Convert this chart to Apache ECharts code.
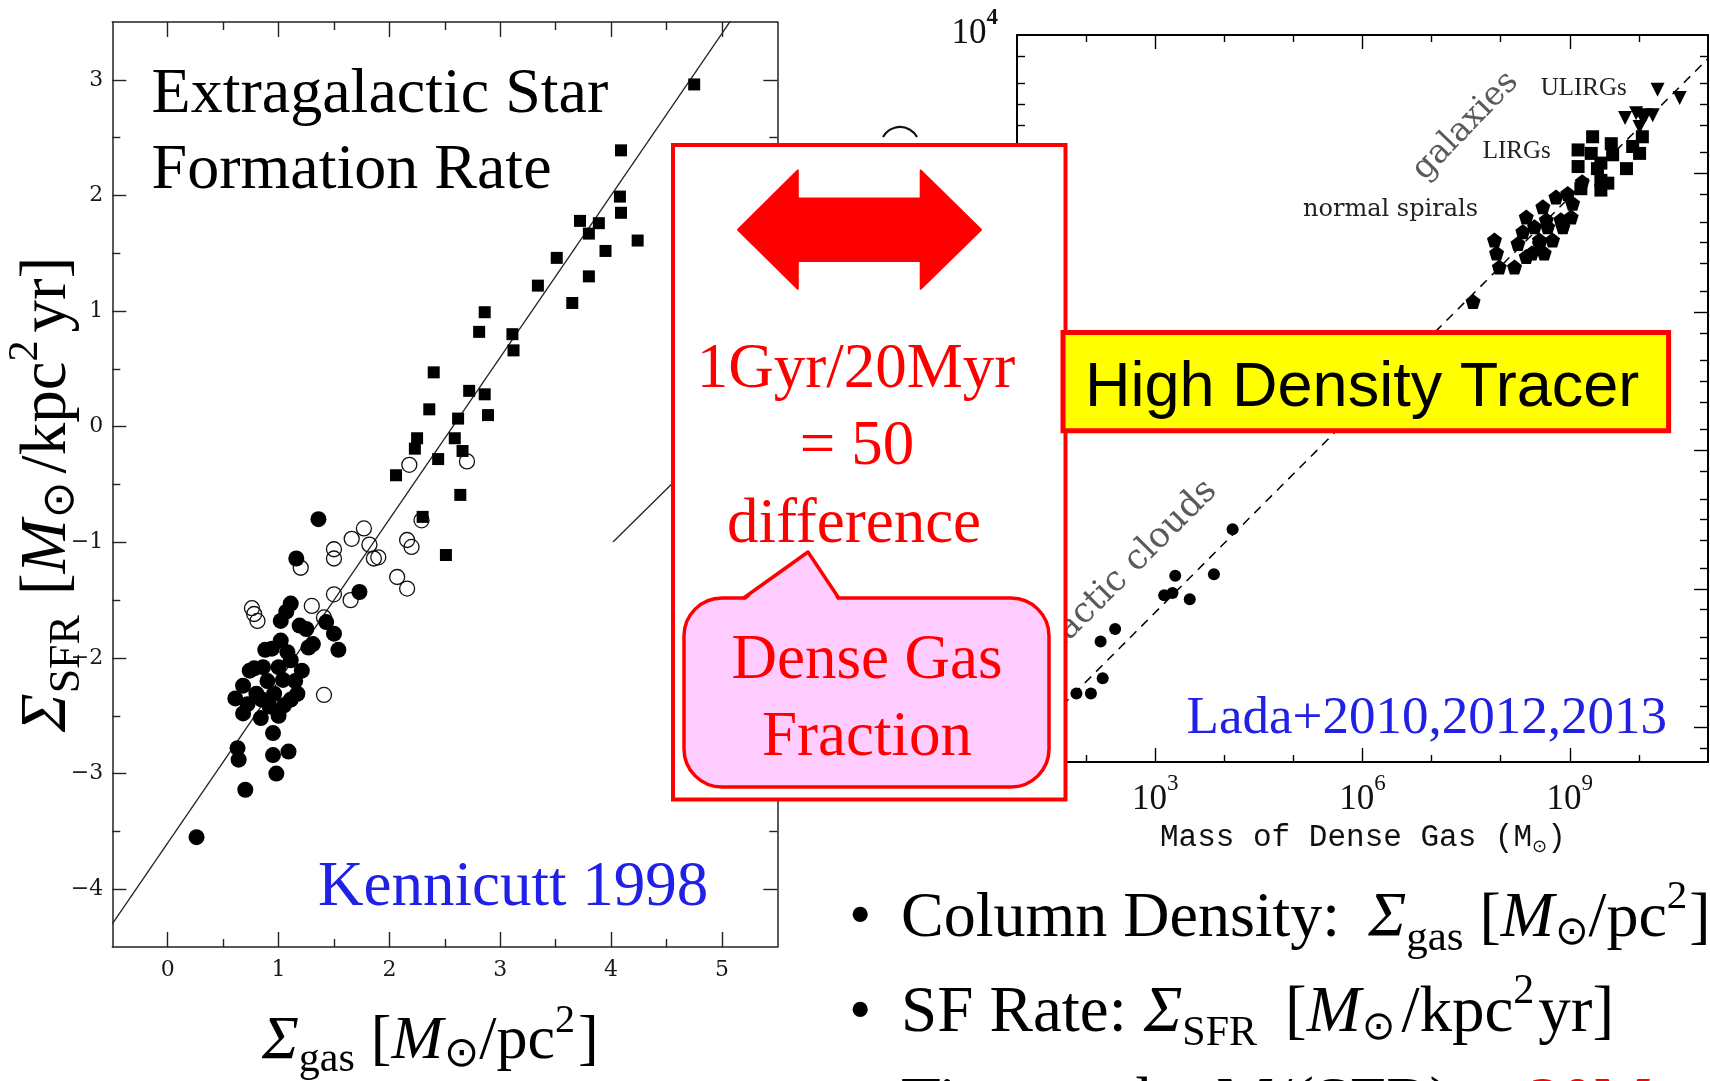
<!DOCTYPE html>
<html><head><meta charset="utf-8">
<script src="https://cdn.jsdelivr.net/npm/echarts@6/dist/echarts.min.js"></script>
<style>html,body{margin:0;padding:0;background:#fff}#c{width:1710px;height:1081px}</style>
</head><body><div id="c"></div>
<script>
// ---------- Left panel: Kennicutt 1998 (log Σgas vs log ΣSFR) ----------
const ksSpiralGas = [0.26,0.70,0.98,0.95,1.09,0.63,0.64,0.95,0.61,0.68,0.74,0.68,0.84,0.80,0.92,0.96,1.04,0.94,1.11,1.17,1.21,1.11,1.02,1.02,1.11,1.19,1.31,1.27,1.43,1.50,1.54,1.73,1.36,1.16,0.86,0.78,0.88,1.07,1.25,1.00,0.85,1.05,1.15,0.90,1.00,1.08,0.72];
const ksSpiralSFR = [-3.55,-3.14,-3.00,-2.84,-2.81,-2.78,-2.88,-2.65,-2.35,-2.24,-2.11,-2.48,-2.52,-2.31,-2.42,-2.31,-2.19,-1.92,-2.36,-2.31,-2.11,-2.02,-1.85,-1.68,-1.53,-1.72,-1.88,-1.91,-1.69,-1.79,-1.93,-1.43,-0.80,-1.14,-2.08,-2.09,-1.93,-1.60,-1.75,-2.08,-2.36,-2.41,-2.20,-2.20,-2.50,-1.95,-2.40];
const ksCenterGas = [0.76,0.81,1.20,1.30,1.41,1.41,1.50,1.50,1.66,1.77,1.82,1.86,1.90,1.50,1.65,2.07,2.16,2.16,2.20,2.18,2.70,2.29,0.78];
const ksCenterSFR = [-1.57,-1.68,-1.22,-1.55,-1.65,-2.32,-1.06,-1.14,-0.97,-0.88,-1.02,-1.14,-1.13,-1.45,-1.50,-1.30,-1.40,-0.98,-1.04,-0.33,-0.30,-0.81,-1.62];
const ksBurstGas = [4.75,4.09,4.08,4.09,4.24,3.72,3.89,3.80,3.95,3.51,3.80,3.34,3.65,2.86,2.81,3.11,3.12,2.40,2.72,2.86,2.89,2.36,2.62,2.25,2.59,2.23,2.44,2.66,2.06,2.64,2.30,2.51];
const ksBurstSFR = [2.96,2.39,1.99,1.85,1.61,1.78,1.76,1.67,1.52,1.46,1.30,1.22,1.07,0.99,0.82,0.80,0.66,0.47,0.31,0.28,0.10,0.15,0.07,-0.10,-0.10,-0.19,-0.28,-0.21,-0.42,-0.59,-0.78,-1.11];
const ksFitGas = [-0.5, 5.2];
const ksFitSFR = [-4.3, 3.68];
const ksXTicks = [0,1,2,3,4,5];
const ksYTicks = [-4,-3,-2,-1,0,1,2,3];

// ---------- Right panel: Lada et al. (log M_dense vs log SFR) ----------
const ldCloudM = [1.86,2.07,2.24,2.21,2.42,3.13,3.29,3.25,3.50,3.85,4.12];
const ldCloudSFR = [-5.51,-5.51,-5.29,-4.76,-4.58,-4.09,-3.81,-4.06,-4.15,-3.79,-3.14];
const ldSpiralM = [7.60,7.91,7.94,7.98,8.20,8.25,8.37,8.32,8.37,8.49,8.56,8.63,8.66,8.61,8.75,8.90,8.80,8.97,9.04,9.02,8.45,8.56,8.87,9.18,8.68];
const ldSpiralSFR = [0.15,1.04,0.85,0.65,0.65,0.99,0.80,1.16,1.37,1.23,0.99,0.85,1.33,1.52,1.04,1.23,1.66,1.71,1.57,1.37,0.85,1.04,1.33,1.88,1.23];
const ldLirgM = [9.33,9.12,9.12,9.31,9.45,9.60,9.62,9.45,9.45,9.55,9.82,9.91,10.01,9.16,9.40,10.05];
const ldLirgSFR = [2.53,2.34,2.10,2.29,2.15,2.43,2.27,1.90,1.76,1.86,2.07,2.39,2.29,1.78,2.07,2.53];
const ldUlirgM = [10.27,10.59,9.80,9.96,10.10,10.20,10.05,10.01];
const ldUlirgSFR = [3.21,3.09,2.80,2.87,2.84,2.84,2.80,2.67];
const ldFitM = [1, 11];
const ldFitSFR = [-6.34, 3.66];
const ldXMajor = [3,6,9];
const ldXMinor = [2,4,5,7,8,10];
const ldYMajor = [-6,-4,-2,0,2,4];

function zip(a,b){const n=Math.min(a.length,b.length);const o=[];for(let i=0;i<n;i++)o.push([a[i],b[i]]);return o;}
function range(a,b,s){const o=[];for(let v=a;v<=b+1e-9;v+=s)o.push(Math.round(v*100)/100);return o;}
// log-axis minor ticks (2x,5x and odd decades)
const ldYMinor=[];for(let n=-7;n<=3;n++){[n+Math.log10(2),n+Math.log10(5)].forEach(v=>{if(v>-6.5&&v<4)ldYMinor.push(v);});if(n%2!==0&&n>-6.5)ldYMinor.push(n);}

// ---------- text helpers ----------
const cv=document.createElement('canvas').getContext('2d');
const SERIF='"Liberation Serif"';
function fontStr(p){return (p.i?'italic ':'')+(p.b?'bold ':'')+p.s+'px '+(p.f||SERIF);}
function midOff(font){cv.font=font;cv.textBaseline='alphabetic';const a=cv.measureText('H').actualBoundingBoxAscent;cv.textBaseline='middle';const b=cv.measureText('H').actualBoundingBoxAscent;return a-b;}
function textW(font,t){cv.font=font;cv.textBaseline='alphabetic';return cv.measureText(t).width;}
function run(parts,x,y,o){
  o=o||{};const items=[];let w=0;
  for(const p of parts){const f=fontStr(p);w+=(p.g||0);items.push({p:p,f:f,x:w});w+=textW(f,p.t);}
  const sh=o.align==='center'?-w/2:(o.align==='right'?-w:0);
  const z=o.z||10;
  return {type:'group',x:x,y:y,rotation:o.rot||0,children:items.map(it=>({type:'text',x:it.x+sh,y:(it.p.dy||0)-midOff(it.f),z:z,silent:true,
    style:{text:it.p.t,font:it.f,fill:it.p.c||o.c||'#000',align:'left',verticalAlign:'middle',textAlign:'left',textVerticalAlign:'middle'}}))};
}
const SUN='"DejaVu Sans"';

// ---------- axes ----------
const LC='#222';
function ax(o){
  return Object.assign({type:'value',splitLine:{show:false},
    axisLine:{show:o.line!==false,onZero:false,lineStyle:{color:o.col||LC,width:o.lw||1.5}},
    axisTick:{show:true,inside:true,length:o.len,customValues:o.ticks,lineStyle:{color:o.col||LC,width:o.tw||1.4}},
    axisLabel:{show:false}},o.extra||{});
}
const tickLbl={fontFamily:'DejaVu Serif',fontSize:22,color:'#1a1a1a'};
const xAxes=[], yAxes=[];
// grid 0
xAxes.push(ax({len:15,ticks:ksXTicks,extra:{gridIndex:0,position:'bottom',min:-0.5,max:5.5,
  axisLabel:Object.assign({show:true,customValues:ksXTicks,margin:12},tickLbl)}}));
xAxes.push(ax({len:8,line:false,ticks:range(0.5,4.5,1),extra:{gridIndex:0,position:'bottom',min:-0.5,max:5.5}}));
xAxes.push(ax({len:15,ticks:ksXTicks,extra:{gridIndex:0,position:'top',min:-0.5,max:5.5}}));
xAxes.push(ax({len:8,line:false,ticks:range(0.5,4.5,1),extra:{gridIndex:0,position:'top',min:-0.5,max:5.5}}));
yAxes.push(ax({len:14,ticks:ksYTicks,extra:{gridIndex:0,position:'left',min:-4.5,max:3.5,
  axisLabel:Object.assign({show:true,customValues:ksYTicks,margin:9,formatter:v=>v<0?'\u2212'+(-v):String(v)},tickLbl)}}));
yAxes.push(ax({len:8,line:false,ticks:range(-3.5,2.5,1),extra:{gridIndex:0,position:'left',min:-4.5,max:3.5}}));
yAxes.push(ax({len:14,ticks:ksYTicks,extra:{gridIndex:0,position:'right',min:-4.5,max:3.5}}));
yAxes.push(ax({len:8,line:false,ticks:range(-3.5,2.5,1),extra:{gridIndex:0,position:'right',min:-4.5,max:3.5}}));
// grid 1
const supRich={
  b:{fontFamily:'Liberation Serif',fontSize:35,color:'#111',verticalAlign:'bottom'},
  s:{fontFamily:'Liberation Serif',fontSize:23,color:'#111',verticalAlign:'top',padding:[0,0,22,0]},
  sb:{fontFamily:'Liberation Serif',fontSize:23,fontWeight:'bold',color:'#111',verticalAlign:'top',padding:[0,0,22,0]}
};
function supFmt(v){const e=Math.round(v);return '{b|10}{'+(e===4?'sb':'s')+'|'+(e<0?'\u2212'+(-e):e)+'}';}
xAxes.push(ax({len:14,col:'#000',lw:2,ticks:ldXMajor,extra:{gridIndex:1,position:'bottom',min:1,max:11,
  axisLabel:{show:true,customValues:ldXMajor,margin:10,formatter:supFmt,rich:supRich}}}));
xAxes.push(ax({len:7,col:'#000',line:false,ticks:ldXMinor,extra:{gridIndex:1,position:'bottom',min:1,max:11}}));
xAxes.push(ax({len:14,col:'#000',lw:2,ticks:ldXMajor,extra:{gridIndex:1,position:'top',min:1,max:11}}));
xAxes.push(ax({len:7,col:'#000',line:false,ticks:ldXMinor,extra:{gridIndex:1,position:'top',min:1,max:11}}));
yAxes.push(ax({len:14,col:'#000',lw:2,ticks:ldYMajor.filter(v=>v<4),extra:{gridIndex:1,position:'left',min:-6.5,max:4,
  axisLabel:{show:true,customValues:ldYMajor,margin:19,formatter:supFmt,rich:supRich,padding:[0,0,12,0]}}}));
yAxes.push(ax({len:8,col:'#000',line:false,ticks:ldYMinor,extra:{gridIndex:1,position:'left',min:-6.5,max:4}}));
yAxes.push(ax({len:14,col:'#000',lw:2,ticks:ldYMajor.filter(v=>v<4),extra:{gridIndex:1,position:'right',min:-6.5,max:4}}));
yAxes.push(ax({len:8,col:'#000',line:false,ticks:ldYMinor,extra:{gridIndex:1,position:'right',min:-6.5,max:4}}));

const PENT='path://M0,-10L9.51,-3.09L5.88,8.09L-5.88,8.09L-9.51,-3.09Z';
const series=[
  {type:'line',xAxisIndex:0,yAxisIndex:0,data:zip(ksFitGas,ksFitSFR),showSymbol:false,symbol:'none',lineStyle:{color:'#222',width:1.3},z:1,silent:true},
  {type:'scatter',xAxisIndex:0,yAxisIndex:0,data:zip(ksCenterGas,ksCenterSFR),symbol:'circle',symbolSize:15,itemStyle:{color:'rgba(255,255,255,0)',borderColor:'#111',borderWidth:1.3,opacity:1},z:3},
  {type:'scatter',xAxisIndex:0,yAxisIndex:0,data:zip(ksSpiralGas,ksSpiralSFR),symbol:'circle',symbolSize:16,itemStyle:{color:'#000',opacity:1},z:4},
  {type:'scatter',xAxisIndex:0,yAxisIndex:0,data:zip(ksBurstGas,ksBurstSFR),symbol:'rect',symbolSize:12,itemStyle:{color:'#000',opacity:1},z:4},
  {type:'line',xAxisIndex:4,yAxisIndex:4,data:zip(ldFitM,ldFitSFR),showSymbol:false,symbol:'none',lineStyle:{color:'#000',width:1.5,type:[9,7]},z:1,silent:true},
  {type:'scatter',xAxisIndex:4,yAxisIndex:4,data:zip(ldCloudM,ldCloudSFR),symbol:'circle',symbolSize:12,itemStyle:{color:'#000',opacity:1}},
  {type:'scatter',xAxisIndex:4,yAxisIndex:4,data:zip(ldSpiralM,ldSpiralSFR),symbol:PENT,symbolSize:15,itemStyle:{color:'#000',opacity:1}},
  {type:'scatter',xAxisIndex:4,yAxisIndex:4,data:zip(ldLirgM,ldLirgSFR),symbol:'rect',symbolSize:13,itemStyle:{color:'#000',opacity:1}},
  {type:'scatter',xAxisIndex:4,yAxisIndex:4,data:zip(ldUlirgM,ldUlirgSFR),symbol:'triangle',symbolRotate:180,symbolSize:14,itemStyle:{color:'#000',opacity:1}}
];

// ---------- annotations / overlays ----------
const RED='#ff0000', BLUE='#2020e6';
const g=[];
g.push(run([{t:'Extragalactic Star',s:64}],151.6,112.3));
g.push(run([{t:'Formation Rate',s:64}],151.6,187.6));
g.push(run([{t:'Kennicutt 1998',s:63,c:BLUE}],318,905));
g.push(run([{t:'\u03a3',i:1,s:62},{t:'gas',s:42,dy:13},{t:'[',s:62,g:16},{t:'M',i:1,s:62},{t:'\u2299',f:SUN,s:42,dy:8,g:1},{t:'/pc',s:62},{t:'2',s:40,dy:-26},{t:']',s:62,g:3}],262,1058));
g.push(run([{t:'\u03a3',i:1,s:65},{t:'SFR',s:44,dy:14},{t:'[',s:65,g:20},{t:'M',i:1,s:65},{t:'\u2299',f:SUN,s:44,dy:8,g:1},{t:'/kpc',s:65,g:8},{t:'2',s:42,dy:-28},{t:'yr]',s:65,g:8}],65,732,{rot:Math.PI/2}));
// leftover segment of underlying figure
g.push({type:'line',shape:{x1:613,y1:542,x2:690,y2:466},style:{stroke:'#222',lineWidth:1.3},z:50,silent:true});
// right panel: visible end of hidden y-axis title
g.push({type:'arc',shape:{cx:900,cy:146.5,r:19.5,startAngle:3.653,endAngle:5.772,clockwise:true},style:{stroke:'#111',lineWidth:2.2,fill:null},z:10,silent:true});
g.push(run([{t:'ULIRGs',s:25,c:'#222'}],1540.7,95));
g.push(run([{t:'LIRGs',s:25,c:'#222'}],1482.7,158.3));
g.push(run([{t:'normal spirals',s:24,f:'"DejaVu Serif"',c:'#222'}],1478,216,{align:'right'}));
g.push(run([{t:'galaxies',s:33,f:'"DejaVu Serif"',c:'#5a5a5a'}],1471.7,132,{align:'center',rot:46*Math.PI/180}));
g.push(run([{t:'Galactic clouds',s:35,f:'"DejaVu Serif"',c:'#5a5a5a'}],1218,492,{align:'right',rot:45*Math.PI/180}));
g.push(run([{t:'Mass of Dense Gas (M',s:31,f:'"Liberation Mono"',c:'#111'},{t:'\u2299',s:18,f:SUN,dy:6,c:'#111'},{t:')',s:31,f:'"Liberation Mono"',c:'#111'}],1160,846));
g.push(run([{t:'Lada+2010,2012,2013',s:53,c:BLUE}],1186.6,733));
// red box
g.push({type:'rect',shape:{x:673,y:145,width:392.5,height:654.5},style:{fill:'#fff',stroke:RED,lineWidth:4},z:100,silent:true});
g.push({type:'polygon',shape:{points:[[738,229.8],[797.8,170.4],[797.8,198.6],[920.7,198.6],[920.7,170.4],[981,229.8],[920.7,288.8],[920.7,261],[797.8,261],[797.8,288.8]]},style:{fill:RED,stroke:RED,lineWidth:2,lineJoin:'round'},z:101,silent:true});
g.push(run([{t:'1Gyr/20Myr',s:63,c:RED}],856,387,{align:'center',z:102}));
g.push(run([{t:'= 50',s:63,c:RED}],857,464,{align:'center',z:102}));
g.push(run([{t:'difference',s:63,c:RED}],854,542,{align:'center',z:102}));
// callout
g.push({type:'rect',shape:{x:684,y:598,width:365,height:189,r:38},style:{fill:'#ffccff',stroke:RED,lineWidth:3.5},z:103,silent:true});
g.push({type:'polygon',shape:{points:[[744,601],[808,553],[838,601]]},style:{fill:'#ffccff'},z:104,silent:true});
g.push({type:'polyline',shape:{points:[[743,598.5],[808,552],[839,598.5]]},style:{stroke:RED,lineWidth:3.5,fill:null,lineJoin:'round'},z:105,silent:true});
g.push(run([{t:'Dense Gas',s:63,c:RED}],867,678,{align:'center',z:106}));
g.push(run([{t:'Fraction',s:63,c:RED}],867,755,{align:'center',z:106}));
// yellow box
g.push({type:'rect',shape:{x:1063,y:332.6,width:605.6,height:98.2},style:{fill:'#ffff00',stroke:RED,lineWidth:5},z:107,silent:true});
g.push(run([{t:'High Density Tracer',s:63,f:'"Liberation Sans"'}],1085,405.7,{z:108}));
// bullets
g.push(run([{t:'\u2022',s:64}],849,936));
g.push(run([{t:'Column Density:',s:64},{t:'\u03a3',i:1,s:64,g:28},{t:'gas',s:43,dy:14},{t:'[',s:64,g:16},{t:'M',i:1,s:64},{t:'\u2299',f:SUN,s:40,dy:8,g:1},{t:'/pc',s:64},{t:'2',s:41,dy:-28},{t:']',s:64,g:2}],901,936));
g.push(run([{t:'\u2022',s:64}],849,1030.6));
g.push(run([{t:'SF Rate:',s:65},{t:'\u03a3',i:1,s:65,g:17},{t:'SFR',s:42,dy:14},{t:'[',s:65,g:28},{t:'M',i:1,s:65},{t:'\u2299',f:SUN,s:40,dy:8,g:1},{t:'/kpc',s:65,g:6},{t:'2',s:42,dy:-28},{t:'yr]',s:65,g:4}],901,1030.6));
g.push(run([{t:'\u2022',s:64}],849,1122));
g.push(run([{t:'Time scale: M/(SFR) ~ ',s:65},{t:'20Myr',s:65,c:RED,g:10}],901,1122));

const chart=echarts.init(document.getElementById('c'),null,{renderer:'canvas',width:1710,height:1081});
chart.setOption({
  animation:false,
  backgroundColor:'#fff',
  textStyle:{fontFamily:'Liberation Serif'},
  grid:[
    {left:112.3,top:22,width:665,height:925,containLabel:false,outerBoundsMode:'none'},
    {left:1017,top:35,width:691,height:727,containLabel:false,outerBoundsMode:'none'}
  ],
  xAxis:xAxes, yAxis:yAxes, series:series, graphic:{elements:g}
});
</script></body></html>
